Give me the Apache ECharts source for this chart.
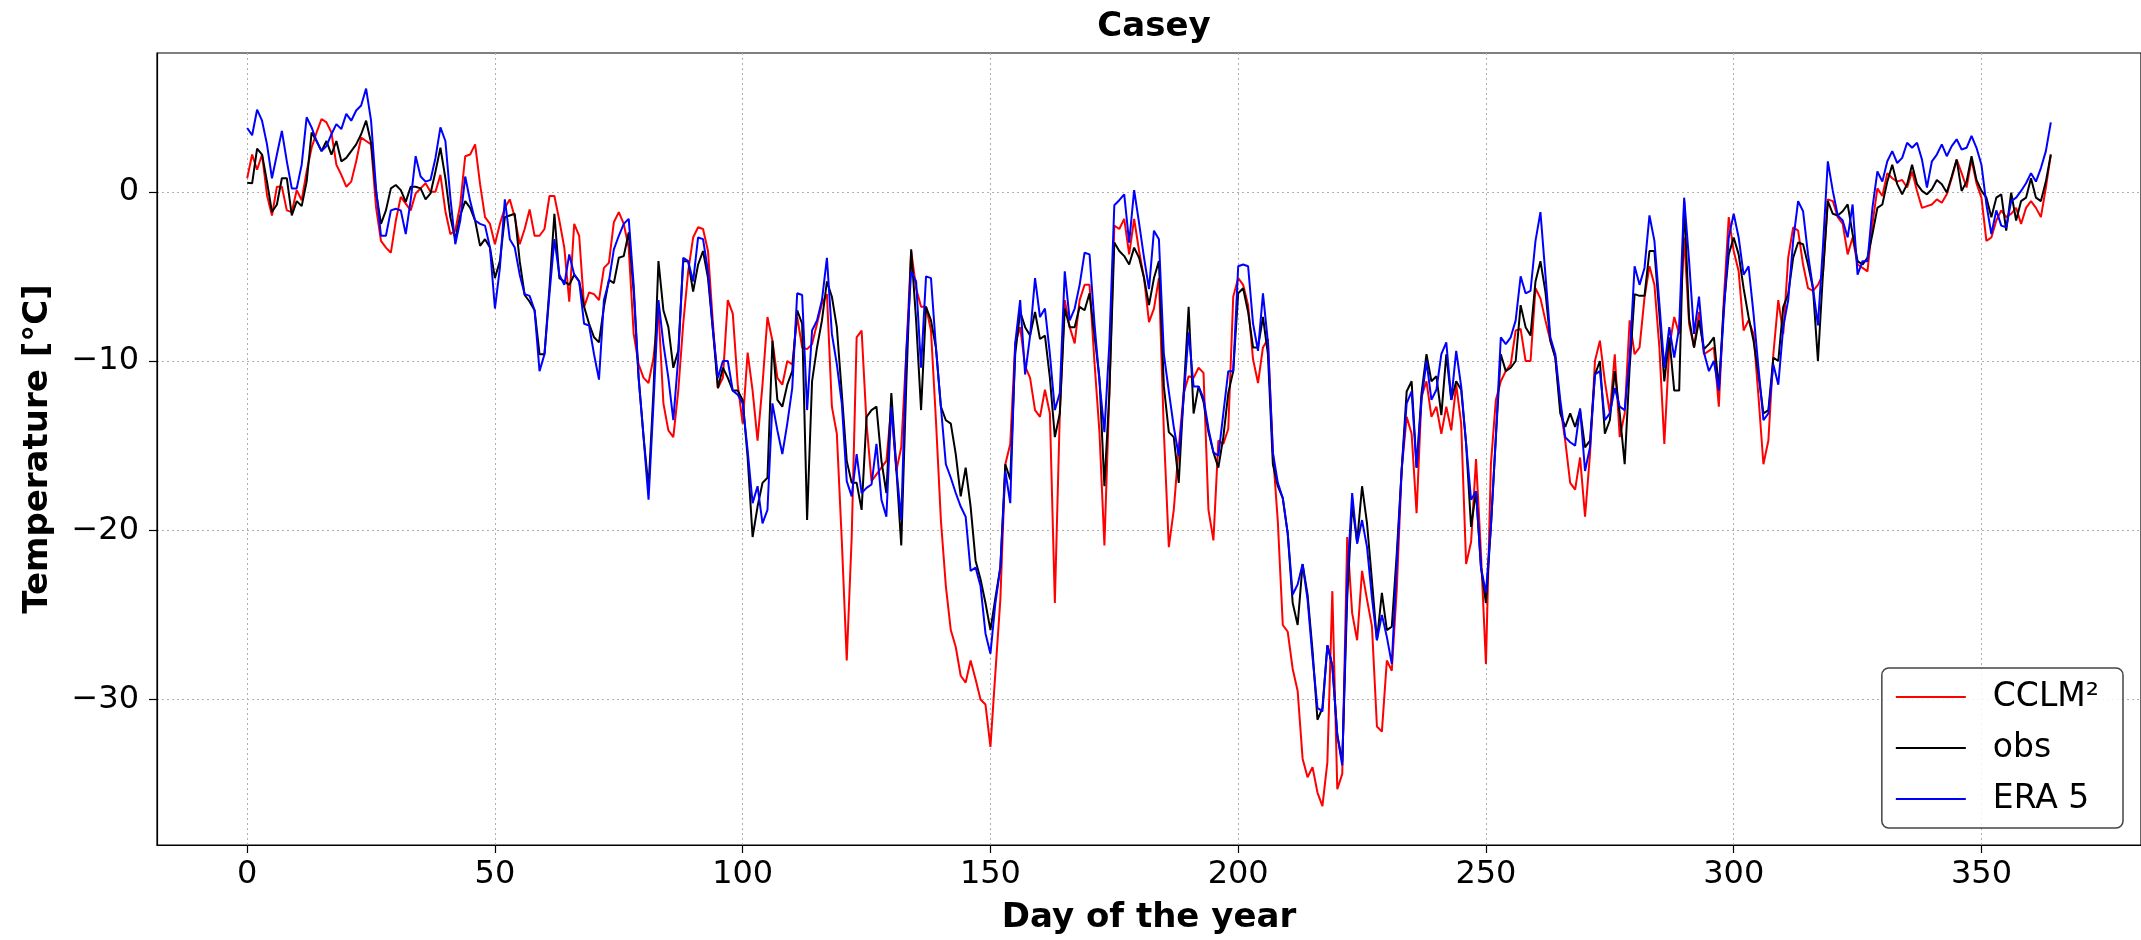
<!DOCTYPE html>
<html>
<head>
<meta charset="utf-8">
<script src="https://cdn.jsdelivr.net/npm/echarts@6/dist/echarts.min.js"></script>
<style>
html,body{margin:0;padding:0;background:#fff;}
#chart{width:2141px;height:940px;}
</style>
</head>
<body>
<div id="chart"></div>
<script>
// Day of year 0..364
const firstDay = 0;
const xTicks = [0, 50, 100, 150, 200, 250, 300, 350];
const yTicks = [-30, -20, -10, 0];
const seriesNames = ['CCLM\u00B2', 'obs', 'ERA 5'];

const cclm = [
 0.8, 2.2, 1.3, 2.2, -0.2, -1.4, 0.3, 0.3, -1.1, -1.2,
 0.1, -0.5, 1.2, 2.6, 3.5, 4.3, 4.1, 3.5, 1.6, 1.0,
 0.3, 0.6, 1.8, 3.2, 3.0, 2.8, -0.9, -2.9, -3.3, -3.6,
 -1.7, -0.3, -0.7, -1.1, -0.1, 0.2, 0.5, 0.0, 0.0, 1.0,
 -1.15, -2.5, -2.3, -0.75, 2.1, 2.2, 2.8, 0.45, -1.5, -1.9,
 -3.1, -1.9, -0.95, -0.45, -1.5, -3.1, -2.2, -1.05, -2.6, -2.6,
 -2.2, -0.25, -0.25, -1.7, -3.3, -6.5, -1.9, -2.6, -6.8, -5.95,
 -6.05, -6.4, -4.5, -4.2, -1.8, -1.2, -1.9, -3.3, -8.4, -10.2,
 -11.0, -11.3, -9.8, -7.0, -12.5, -14.1, -14.5, -11.75, -7.8, -4.7,
 -2.7, -2.1, -2.2, -3.5, -7.8, -11.6, -11.0, -6.4, -7.2, -11.4,
 -13.7, -9.5, -11.75, -14.7, -11.4, -7.4, -8.8, -11.0, -11.4, -10.0,
 -10.2, -7.4, -9.2, -9.3, -9.0, -7.8, -6.6, -6.05, -12.7, -14.3,
 -20.6, -27.7, -20.4, -8.6, -8.2, -13.7, -17.1, -16.7, -16.3, -15.9,
 -12.7, -16.5, -15.1, -9.6, -3.5, -5.7, -6.8, -6.8, -8.2, -13.5,
 -19.4, -23.3, -25.9, -26.9, -28.6, -29.0, -27.7, -28.8, -30.0, -30.3,
 -32.8, -28.4, -24.1, -16.1, -14.9, -8.96, -8.0, -10.3, -11.0, -12.9,
 -13.3, -11.7, -13.1, -24.3, -13.1, -6.4, -8.0, -8.96, -6.4, -5.5,
 -5.5, -10.1, -14.2, -20.9, -11.9, -2.0, -2.2, -1.6, -3.7, -1.6,
 -3.5, -5.1, -7.7, -6.9, -5.1, -14.2, -21.0, -18.8, -15.1, -11.9,
 -10.9, -11.0, -10.4, -10.7, -18.8, -20.6, -14.7, -14.9, -14.0, -6.2,
 -5.1, -5.5, -6.7, -9.9, -11.3, -9.2, -8.7, -15.4, -19.5, -25.6,
 -26.0, -28.2, -29.5, -33.5, -34.6, -34.0, -35.5, -36.3, -33.7, -23.6,
 -35.3, -34.4, -20.4, -24.9, -26.5, -22.4, -24.1, -25.7, -31.6, -31.9,
 -27.7, -28.3, -23.5, -16.4, -13.3, -14.3, -19.0, -12.1, -11.2, -13.3,
 -12.7, -14.3, -12.7, -14.1, -11.4, -13.7, -22.0, -20.7, -15.8, -21.4,
 -27.9, -16.1, -12.3, -11.2, -10.6, -10.2, -8.2, -8.1, -10.0, -10.0,
 -5.7, -6.3, -7.6, -8.8, -9.8, -12.7, -14.7, -17.2, -17.6, -15.7,
 -19.2, -15.5, -10.0, -8.8, -11.2, -13.1, -9.6, -14.5, -13.1, -7.6,
 -9.6, -9.2, -6.25, -4.4, -5.5, -9.2, -14.9, -9.2, -7.4, -8.4,
 -2.7, -7.8, -9.2, -7.1, -9.6, -9.4, -9.2, -12.7, -6.4, -1.5,
 -3.5, -4.7, -8.2, -7.6, -8.4, -12.1, -16.1, -14.7, -9.6, -6.4,
 -8.4, -3.9, -2.1, -2.3, -4.3, -5.7, -5.85, -5.5, -4.9, -0.45,
 -0.55, -1.5, -1.9, -3.7, -2.7, -4.3, -4.5, -4.7, -1.9, 0.2,
 -0.25, 1.1, 0.8, 0.6, 0.7, 0.25, 1.2, 0.05, -0.95, -0.85,
 -0.75, -0.45, -0.65, -0.15, 0.8, 1.9, 1.1, 0.25, 1.9, 0.5,
 -0.35, -2.9, -2.7, -1.7, -1.1, -1.5, -1.3, -0.95, -1.9, -0.95,
 -0.55, -0.95, -1.5, 0.25, 2.2
];

const obs = [
 0.53, 0.5, 2.55, 2.2, 0.6, -1.2, -0.75, 0.8, 0.8, -1.4,
 -0.55, -0.85, 0.6, 3.5, 3.0, 2.4, 3.0, 2.2, 3.0, 1.8,
 2.0, 2.4, 2.8, 3.4, 4.2, 2.9, 0.0, -1.9, -1.1, 0.2,
 0.4, 0.1, -0.6, 0.3, 0.3, 0.2, -0.45, -0.1, 1.2, 2.6,
 0.8, -1.5, -2.8, -1.4, -0.55, -0.95, -1.7, -3.2, -2.8, -3.3,
 -5.1, -4.1, -1.5, -1.4, -1.3, -4.1, -6.1, -6.5, -7.0, -9.6,
 -9.6, -5.7, -1.3, -5.1, -5.3, -5.5, -4.9, -5.3, -6.8, -7.8,
 -8.6, -8.9, -6.8, -5.2, -5.4, -3.9, -3.8, -2.4, -5.9, -11.0,
 -14.5, -17.5, -11.75, -4.1, -7.0, -8.0, -10.4, -9.4, -4.1, -4.1,
 -5.9, -4.3, -3.5, -5.1, -8.2, -11.6, -10.4, -11.0, -11.75, -11.75,
 -12.3, -15.7, -20.4, -18.6, -17.2, -16.9, -8.8, -12.3, -12.7, -11.4,
 -10.6, -7.0, -7.8, -19.4, -11.2, -9.2, -7.6, -5.3, -6.2, -8.0,
 -11.9, -15.9, -17.2, -17.2, -18.8, -13.3, -12.9, -12.7, -15.9, -17.8,
 -11.9, -16.3, -20.9, -11.5, -3.4, -7.6, -12.9, -6.8, -7.6, -9.2,
 -12.7, -13.5, -13.7, -15.5, -18.0, -16.3, -18.6, -21.8, -22.9, -24.3,
 -25.9, -24.0, -22.2, -16.1, -17.0, -9.6, -7.1, -8.0, -8.5, -7.1,
 -8.7, -8.5, -11.0, -14.5, -13.1, -6.9, -8.0, -8.0, -6.8, -7.0,
 -6.0, -8.5, -11.0, -17.4, -11.9, -3.0, -3.5, -3.8, -4.3, -3.3,
 -3.9, -5.1, -6.7, -5.1, -4.1, -11.5, -14.2, -14.5, -17.2, -11.9,
 -6.8, -13.1, -11.5, -12.4, -14.2, -15.4, -16.3, -14.5, -11.9, -10.6,
 -6.0, -5.7, -7.1, -9.2, -9.2, -7.4, -9.6, -16.1, -17.4, -18.1,
 -20.2, -24.3, -25.6, -22.0, -23.8, -27.1, -31.2, -30.5, -26.8, -28.0,
 -32.1, -33.7, -24.0, -18.5, -20.7, -17.4, -19.6, -23.0, -26.5, -23.7,
 -25.9, -25.7, -21.4, -16.4, -11.8, -11.2, -16.3, -11.9, -9.6, -11.2,
 -10.9, -13.2, -9.6, -12.3, -11.2, -11.7, -14.9, -19.8, -17.7, -22.2,
 -24.3, -19.8, -14.5, -9.6, -10.6, -10.4, -10.0, -6.7, -8.0, -8.5,
 -5.3, -4.1, -5.9, -8.8, -9.8, -13.1, -13.9, -13.1, -13.9, -12.9,
 -15.1, -14.7, -10.8, -10.0, -14.3, -13.5, -10.6, -13.1, -16.1, -10.4,
 -6.05, -6.15, -6.15, -3.5, -3.5, -7.2, -11.2, -8.6, -11.75, -11.75,
 -0.55, -7.5, -9.2, -7.6, -9.3, -9.0, -8.6, -11.6, -6.8, -3.7,
 -2.7, -3.7, -5.7, -7.4, -8.8, -10.8, -13.1, -12.9, -9.8, -10.0,
 -6.8, -6.05, -3.9, -3.0, -3.1, -4.3, -5.7, -10.0, -4.9, -0.55,
 -1.3, -1.4, -1.15, -0.75, -2.5, -4.1, -4.3, -3.9, -2.5, -0.95,
 -0.75, 0.6, 1.6, 0.45, -0.15, 0.45, 1.6, 0.45, 0.05, -0.15,
 0.15, 0.7, 0.45, -0.05, 0.9, 1.9, 0.05, 0.6, 2.1, 0.7,
 0.05, -0.35, -1.5, -0.35, -0.15, -2.3, -0.05, -1.7, -0.55, -0.35,
 0.8, -0.35, -0.55, 0.6, 2.2
];

const era5 = [
 3.77, 3.34, 4.85, 4.2, 2.8, 0.8, 2.2, 3.6, 1.8, 0.2,
 0.2, 1.6, 4.4, 3.8, 3.0, 2.4, 2.7, 3.4, 4.0, 3.7,
 4.6, 4.2, 4.8, 5.1, 6.1, 4.2, 0.2, -2.6, -2.6, -1.1,
 -1.0, -1.1, -2.5, -0.5, 2.1, 0.9, 0.6, 0.7, 2.0, 3.8,
 3.0, -0.35, -3.1, -1.7, 0.9, -0.55, -1.7, -1.9, -2.0, -3.3,
 -6.9, -4.5, -0.45, -2.8, -3.3, -4.9, -6.05, -6.15, -7.0, -10.6,
 -9.6, -6.05, -2.8, -4.9, -5.5, -3.7, -4.9, -5.3, -7.8, -7.9,
 -9.6, -11.1, -6.4, -5.3, -3.4, -2.6, -1.9, -1.6, -5.5, -11.0,
 -14.5, -18.2, -12.5, -6.4, -9.0, -11.0, -13.5, -9.8, -3.9, -4.1,
 -5.3, -2.7, -2.8, -4.7, -8.2, -11.0, -10.0, -10.0, -11.75, -12.0,
 -12.5, -15.3, -18.4, -17.4, -19.6, -18.8, -12.5, -14.1, -15.5, -13.7,
 -11.6, -6.0, -6.1, -12.9, -8.2, -7.6, -6.4, -3.9, -8.4, -10.2,
 -12.5, -17.1, -18.0, -15.5, -17.8, -17.5, -17.3, -14.9, -18.2, -19.2,
 -12.7, -16.3, -19.4, -9.6, -4.7, -5.3, -10.4, -5.0, -5.1, -9.2,
 -12.7, -16.1, -16.9, -17.8, -18.6, -19.2, -22.4, -22.2, -23.3, -26.1,
 -27.3, -24.3, -22.2, -16.5, -18.4, -8.96, -6.4, -10.8, -8.5, -5.1,
 -7.4, -6.9, -9.6, -12.9, -11.9, -4.7, -7.6, -6.9, -5.5, -3.6,
 -3.7, -7.8, -11.2, -14.2, -8.96, -0.8, -0.5, -0.15, -3.0, 0.1,
 -1.85, -3.9, -5.75, -2.3, -2.8, -9.6, -11.8, -13.9, -15.6, -12.2,
 -8.3, -11.5, -11.5, -12.2, -14.0, -15.4, -15.6, -13.1, -10.6, -10.6,
 -4.4, -4.3, -4.4, -7.8, -9.4, -6.0, -8.9, -15.4, -17.2, -18.1,
 -20.2, -23.8, -23.2, -22.0, -24.1, -27.5, -30.5, -30.7, -26.8, -28.0,
 -32.1, -33.9, -22.9, -17.8, -20.8, -19.4, -21.0, -24.0, -26.5, -25.0,
 -26.3, -27.9, -22.0, -16.4, -12.5, -11.8, -16.3, -12.3, -10.0, -12.3,
 -11.7, -9.6, -8.9, -12.3, -9.4, -11.5, -14.9, -18.2, -17.7, -22.2,
 -23.7, -19.8, -14.5, -8.6, -9.0, -8.6, -7.6, -5.0, -6.0, -5.85,
 -2.9, -1.2, -4.9, -8.6, -9.6, -12.3, -14.5, -14.8, -15.0, -12.8,
 -16.5, -15.1, -10.8, -10.6, -13.5, -13.1, -11.6, -12.7, -12.9, -9.8,
 -4.4, -5.5, -4.5, -1.4, -2.9, -6.6, -10.4, -8.0, -9.8, -8.0,
 -0.35, -4.1, -8.4, -6.2, -9.5, -10.6, -10.0, -11.75, -7.2, -2.7,
 -1.3, -2.7, -4.9, -4.4, -7.2, -10.4, -13.5, -13.1, -10.2, -11.4,
 -8.0, -6.4, -2.9, -0.55, -1.15, -3.7, -5.7, -7.9, -3.3, 1.8,
 0.05, -1.4, -1.7, -2.7, -0.75, -4.9, -4.1, -4.1, -0.95, 1.2,
 0.6, 1.8, 2.4, 1.7, 2.0, 2.9, 2.6, 2.9, 1.9, 0.25,
 1.8, 2.2, 2.8, 2.1, 2.7, 3.1, 2.5, 2.6, 3.3, 2.6,
 1.6, -0.75, -2.5, -1.1, -2.0, -2.1, -0.55, -0.35, 0.05, 0.5,
 1.1, 0.6, 1.4, 2.4, 4.1
];

function pairs(vals) {
  return vals.map((v, i) => [firstDay + i, v]);
}
const FONT = '"DejaVu Sans", sans-serif';
const minus = v => String(v).replace('-', '\u2212');

const chart = echarts.init(document.getElementById('chart'), null, {renderer: 'canvas'});
chart.setOption({
  animation: false,
  backgroundColor: '#ffffff',
  title: {
    text: 'Casey',
    left: 1149,
    top: 5,
    textAlign: 'center',
    textStyle: {fontFamily: FONT, fontWeight: 'bold', fontSize: 34, color: '#000'}
  },
  grid: {
    left: 157, right: -1, top: 53, bottom: 94,
    show: true, borderColor: '#000', borderWidth: 1.2, backgroundColor: 'transparent'
  },
  legend: {
    orient: 'vertical',
    right: 18,
    bottom: 112,
    data: seriesNames,
    icon: 'rect',
    itemWidth: 70,
    itemHeight: 2,
    itemGap: 13,
    padding: [10, 24, 10, 14],
    backgroundColor: 'rgba(255,255,255,0.85)',
    borderColor: '#444',
    borderWidth: 1.5,
    borderRadius: 7,
    textStyle: {fontFamily: FONT, fontSize: 33, color: '#000', padding: [0, 0, 0, 22], lineHeight: 38}
  },
  xAxis: {
    type: 'value',
    min: -18.2,
    max: 382.2,
    name: 'Day of the year',
    nameLocation: 'middle',
    nameGap: 56,
    nameTextStyle: {fontFamily: FONT, fontWeight: 'bold', fontSize: 34, color: '#000'},
    axisLine: {show: true, onZero: false, lineStyle: {color: '#000', width: 1.2}},
    axisTick: {show: true, inside: false, length: 8, customValues: xTicks, lineStyle: {color: '#000', width: 1.2}},
    axisLabel: {customValues: xTicks, margin: 14, fontFamily: FONT, fontSize: 32, color: '#000', formatter: minus},
    splitLine: {show: true, lineStyle: {color: '#b0b0b0', type: [2, 3], width: 1}}
  },
  yAxis: {
    type: 'value',
    min: -38.6,
    max: 8.2,
    name: 'Temperature [\u00B0C]',
    nameLocation: 'middle',
    nameGap: 102,
    nameRotate: 90,
    nameTextStyle: {fontFamily: FONT, fontWeight: 'bold', fontSize: 34, color: '#000'},
    axisLine: {show: true, onZero: false, lineStyle: {color: '#000', width: 1.2}},
    axisTick: {show: true, inside: false, length: 8, customValues: yTicks, lineStyle: {color: '#000', width: 1.2}},
    axisLabel: {customValues: yTicks, margin: 18, fontFamily: FONT, fontSize: 32, color: '#000', formatter: minus},
    splitLine: {show: true, lineStyle: {color: '#b0b0b0', type: [2, 3], width: 1}}
  },
  series: [
    {name: seriesNames[0], type: 'line', data: pairs(cclm), showSymbol: false, symbol: 'none',
     lineStyle: {color: '#ff0000', width: 2}, itemStyle: {color: '#ff0000'}, z: 2},
    {name: seriesNames[1], type: 'line', data: pairs(obs), showSymbol: false, symbol: 'none',
     lineStyle: {color: '#000000', width: 2}, itemStyle: {color: '#000000'}, z: 3},
    {name: seriesNames[2], type: 'line', data: pairs(era5), showSymbol: false, symbol: 'none',
     lineStyle: {color: '#0000ff', width: 2}, itemStyle: {color: '#0000ff'}, z: 4}
  ]
});
</script>
</body>
</html>
